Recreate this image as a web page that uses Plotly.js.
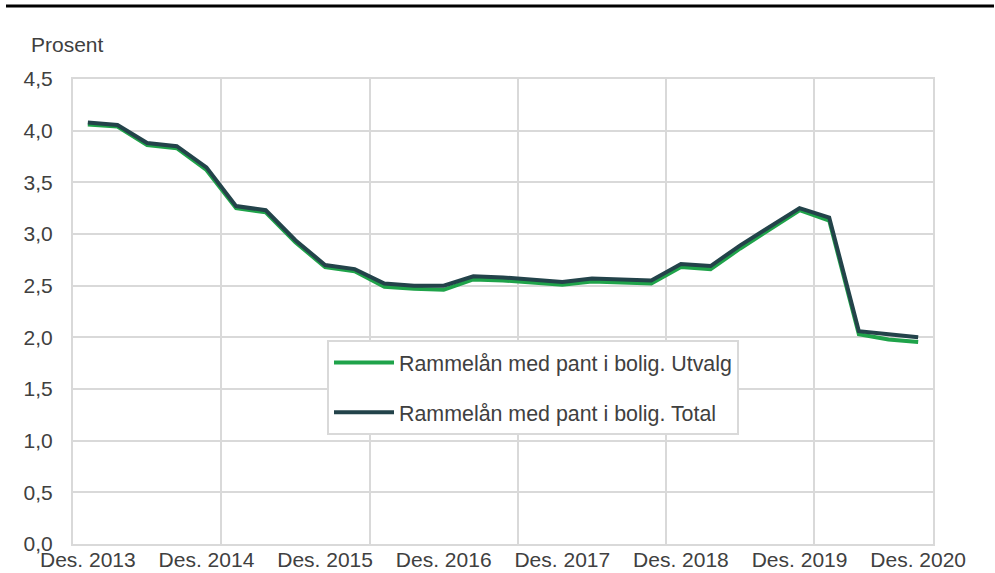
<!DOCTYPE html>
<html>
<head>
<meta charset="utf-8">
<script src="https://cdn.plot.ly/plotly-3.0.1.min.js"></script>
<style>html,body{margin:0;padding:0;background:#fff;}#chart{width:995px;height:573px;}</style>
</head>
<body>
<div id="chart"></div>
<script>
const periods = ["Des. 2013","Mar. 2014","Jun. 2014","Sep. 2014","Des. 2014","Mar. 2015","Jun. 2015","Sep. 2015","Des. 2015","Mar. 2016","Jun. 2016","Sep. 2016","Des. 2016","Mar. 2017","Jun. 2017","Sep. 2017","Des. 2017","Mar. 2018","Jun. 2018","Sep. 2018","Des. 2018","Mar. 2019","Jun. 2019","Sep. 2019","Des. 2019","Mar. 2020","Jun. 2020","Sep. 2020","Des. 2020"];
const utvalg = [4.06,4.04,3.86,3.83,3.62,3.25,3.21,2.92,2.68,2.64,2.49,2.47,2.46,2.56,2.55,2.53,2.51,2.54,2.53,2.52,2.68,2.66,2.86,3.04,3.23,3.13,2.03,1.98,1.955];
const total  = [4.08,4.055,3.88,3.85,3.645,3.27,3.23,2.94,2.70,2.66,2.52,2.50,2.50,2.59,2.58,2.56,2.535,2.57,2.56,2.55,2.71,2.69,2.89,3.07,3.25,3.16,2.06,2.03,2.00];
const tickLabels = ["Des. 2013","Des. 2014","Des. 2015","Des. 2016","Des. 2017","Des. 2018","Des. 2019","Des. 2020"];
const seriesNames = ["Rammelån med pant i bolig. Utvalg","Rammelån med pant i bolig. Total"];

const xIdx = periods.map((p, i) => i);
const tickPos = tickLabels.map(l => periods.indexOf(l));

const FONT = '"Liberation Sans", Arial, sans-serif';
const TXT = '#404040';
const GRID = '#d9d9d9';

const traces = [
  {x: xIdx, y: utvalg, type: 'scatter', mode: 'lines', name: seriesNames[0], legendgroup: 'a',
   line: {color: '#1fa34a', width: 4}, hoverinfo: 'skip'},
  {x: xIdx, y: total, type: 'scatter', mode: 'lines', name: seriesNames[1], legendgroup: 'b',
   line: {color: '#23434a', width: 4}, hoverinfo: 'skip'}
];

const L = 73, R = 933, T = 79, B = 544;
const px2x = p => (p - L) / (R - L);
const py2y = p => (B - p) / (B - T);

const layout = {
  width: 995, height: 573,
  margin: {l: L, r: 995 - R, t: T, b: 573 - B, pad: 0},
  paper_bgcolor: '#fff', plot_bgcolor: '#fff',
  separators: ', ',
  font: {family: FONT, size: 21, color: TXT},
  showlegend: true,
  legend: {
    x: px2x(327), y: py2y(340), xanchor: 'left', yanchor: 'top',
    bgcolor: '#fff', bordercolor: GRID, borderwidth: 2,
    font: {family: FONT, size: 21.4, color: TXT},
    traceorder: 'grouped', tracegroupgap: 19, itemwidth: 60
  },
  xaxis: {
    type: 'linear', range: [-0.5, periods.length - 0.5],
    tickmode: 'array', tickvals: tickPos, ticktext: tickLabels,
    showgrid: false, zeroline: false,
    showline: true, mirror: true, linecolor: GRID, linewidth: 2,
    ticks: '', ticklabelstandoff: -4,
    tickfont: {family: FONT, size: 21, color: TXT},
    minor: {tickmode: 'linear', tick0: -0.5, dtick: 5, showgrid: true, gridcolor: GRID, gridwidth: 2, ticks: ''},
    fixedrange: true
  },
  yaxis: {
    range: [0, 4.5], tickmode: 'linear', tick0: 0, dtick: 0.5, tickformat: '.1f',
    showgrid: true, gridcolor: GRID, gridwidth: 2, zeroline: false,
    showline: true, mirror: true, linecolor: GRID, linewidth: 2,
    ticks: '', ticklabelstandoff: 14,
    tickfont: {family: FONT, size: 21, color: TXT},
    fixedrange: true
  },
  annotations: [{
    text: 'Prosent', xref: 'paper', yref: 'paper', x: px2x(29), y: py2y(44),
    xanchor: 'left', yanchor: 'middle', showarrow: false,
    font: {family: FONT, size: 21, color: TXT}
  }],
  shapes: [{
    type: 'line', xref: 'paper', yref: 'paper',
    x0: px2x(6), x1: px2x(994), y0: py2y(6), y1: py2y(6),
    line: {color: '#000', width: 3}
  }]
};

Plotly.newPlot('chart', traces, layout, {displayModeBar: false, staticPlot: true});
</script>
</body>
</html>
